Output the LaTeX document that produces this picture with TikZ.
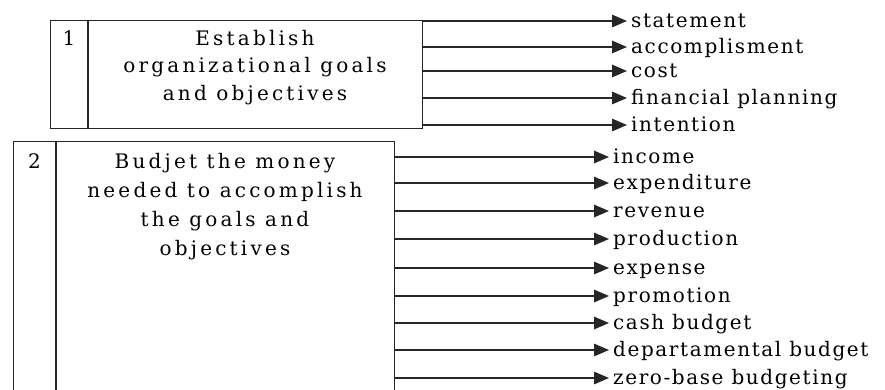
\documentclass[tikz,border=0pt]{standalone}
\usepackage{fontspec}
\setmainfont{DejaVu Serif}
\newfontfamily\labelfont[LetterSpace=8]{DejaVu Serif}
\newfontfamily\boxfont[LetterSpace=16]{DejaVu Serif}
\usetikzlibrary{arrows.meta}

\begin{document}
\begin{tikzpicture}[x=1pt, y=-1pt,
  panel/.style={draw=black!85, line width=1.4pt, inner sep=0pt, anchor=north west},
  rule/.style={draw=black!85, line width=1.4pt},
  tag/.style={font=\boxfont\fontsize{20}{28}\selectfont, anchor=base, inner sep=0pt},
  goal/.style={font=\boxfont\fontsize{20}{28}\selectfont, align=center, anchor=base, inner sep=0pt},
  item/.style={font=\labelfont\fontsize{20}{22}\selectfont, anchor=west,
    inner xsep=4pt, inner ysep=0pt, text height=15pt, text depth=3pt},
  link/.style={draw=black!85, line width=1.4pt, -{Triangle[length=15pt, width=12.5pt]}}]

\useasboundingbox (0,0) rectangle (885,389);
\clip (0,0) rectangle (885,389);

% step 1: goals and objectives
\node[panel, minimum width=372pt, minimum height=108pt] (p1) at (50,20) {};
\draw[rule] ([xshift=38pt]p1.north west) -- ([xshift=38pt]p1.south west);
\node[tag] (n1) at (69,45) {1};
% anchor=base sits on the last line of a multi-line node
\node[goal, font=\boxfont\fontsize{20}{27.5}\selectfont] (g1) at (255,100) {Establish\\organizational goals\\and objectives};

\foreach \y/\t [count=\i] in {21/statement, 47/accomplisment, 71/cost,
    98/financial planning, 125/intention} {
  \node[item] (a\i) at (627,\y) {\t};
  \draw[link] (p1.east |- a\i.west) -- (a\i.west);
}

% step 2: budgeting the money
\node[panel, minimum width=381pt, minimum height=270pt] (p2) at (13,141) {};
\draw[rule] ([xshift=43pt]p2.north west) -- ([xshift=43pt]p2.south west);
\node[tag] (n2) at (34.5,168) {2};
\node[goal, font=\boxfont\fontsize{20}{29}\selectfont] (g2) at (225,255) {Budjet the money\\needed to accomplish\\the goals and\\objectives};

\foreach \y/\t [count=\i] in {157/income, 183/expenditure, 211/revenue,
    239/production, 268/expense, 296/promotion, 323/cash budget,
    350/departamental budget, 378/zero-base budgeting} {
  \node[item] (b\i) at (609,\y) {\t};
  \draw[link] (p2.east |- b\i.west) -- (b\i.west);
}
\end{tikzpicture}
\end{document}
